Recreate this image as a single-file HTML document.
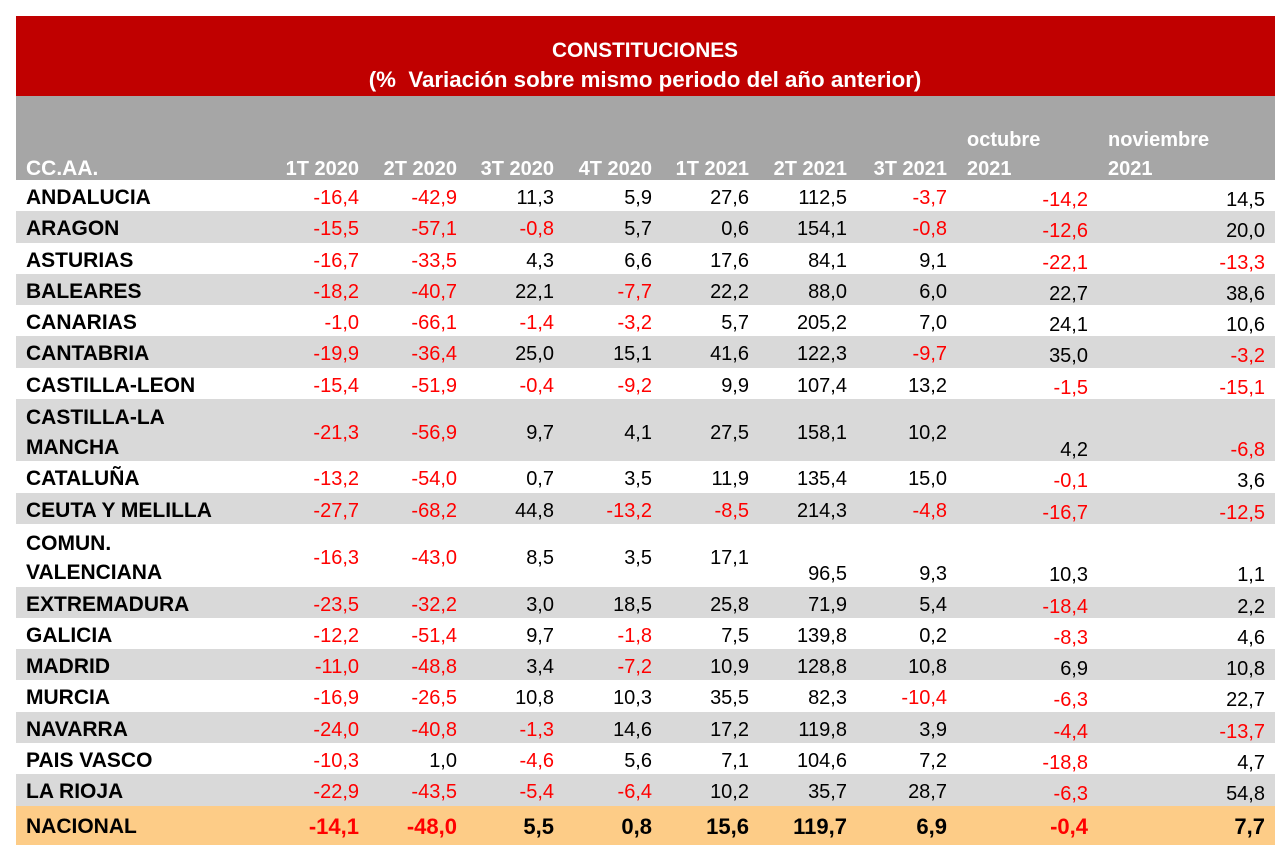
<!DOCTYPE html>
<html>
<head>
<meta charset="utf-8">
<style>
  html, body { margin: 0; padding: 0; background: #ffffff; }
  body { width: 1282px; height: 861px; overflow: hidden; }
  svg { display: block; }
  text { font-family: "Liberation Sans", Arial, sans-serif; }
  .t1 { font-weight: bold; font-size: 20.8px; fill: #ffffff; }
  .t2 { font-weight: bold; font-size: 22.3px; fill: #ffffff; white-space: pre; }
  .h { font-weight: bold; font-size: 20px; fill: #ffffff; }
  .hn { font-weight: bold; font-size: 21px; fill: #ffffff; }
  .nm { font-weight: bold; font-size: 21px; fill: #000000; }
  .v { font-size: 20px; fill: #000000; }
  .v .r, .r { fill: #ff0000; }
  .nb { font-weight: bold; font-size: 22px; fill: #000000; }
</style>
</head>
<body>
<svg width="1282" height="861" viewBox="0 0 1282 861" xmlns="http://www.w3.org/2000/svg">
  <rect x="0" y="0" width="1282" height="861" fill="#ffffff"/>
  <!-- title band -->
  <rect x="16" y="16" width="1259" height="80" fill="#c00000"/>
  <!-- header band -->
  <rect x="16" y="96" width="1259" height="84" fill="#a6a6a6"/>
  <!-- stripes -->
  <rect x="16" y="211" width="1259" height="32" fill="#d9d9d9"/>
  <rect x="16" y="274" width="1259" height="31" fill="#d9d9d9"/>
  <rect x="16" y="336" width="1259" height="32" fill="#d9d9d9"/>
  <rect x="16" y="399" width="1259" height="62" fill="#d9d9d9"/>
  <rect x="16" y="493" width="1259" height="31" fill="#d9d9d9"/>
  <rect x="16" y="587" width="1259" height="31" fill="#d9d9d9"/>
  <rect x="16" y="649" width="1259" height="31" fill="#d9d9d9"/>
  <rect x="16" y="712" width="1259" height="31" fill="#d9d9d9"/>
  <rect x="16" y="774" width="1259" height="32" fill="#d9d9d9"/>
  <rect x="16" y="806" width="1259" height="39" fill="#fdcc87"/>

  <!-- title -->
  <text class="t1" x="645" y="57" text-anchor="middle">CONSTITUCIONES</text>
  <text class="t2" x="645" y="87" text-anchor="middle" xml:space="preserve">(%  Variación sobre mismo periodo del año anterior)</text>

  <!-- header -->
  <text class="hn" x="26" y="175">CC.AA.</text>
  <g class="h" text-anchor="end">
    <text x="359" y="175">1T 2020</text>
    <text x="457" y="175">2T 2020</text>
    <text x="554" y="175">3T 2020</text>
    <text x="652" y="175">4T 2020</text>
    <text x="749" y="175">1T 2021</text>
    <text x="847" y="175">2T 2021</text>
    <text x="947" y="175">3T 2021</text>
  </g>
  <text class="h" x="967" y="146">octubre</text>
  <text class="h" x="967" y="175">2021</text>
  <text class="h" x="1108" y="146">noviembre</text>
  <text class="h" x="1108" y="175">2021</text>

  <!-- names -->
  <g class="nm">
    <text x="26" y="204">ANDALUCIA</text>
    <text x="26" y="235">ARAGON</text>
    <text x="26" y="267">ASTURIAS</text>
    <text x="26" y="298">BALEARES</text>
    <text x="26" y="329">CANARIAS</text>
    <text x="26" y="360">CANTABRIA</text>
    <text x="26" y="392">CASTILLA-LEON</text>
    <text x="26" y="424">CASTILLA-LA</text>
    <text x="26" y="454">MANCHA</text>
    <text x="26" y="485">CATALUÑA</text>
    <text x="26" y="517">CEUTA Y MELILLA</text>
    <text x="26" y="550">COMUN.</text>
    <text x="26" y="579">VALENCIANA</text>
    <text x="26" y="611">EXTREMADURA</text>
    <text x="26" y="642">GALICIA</text>
    <text x="26" y="673">MADRID</text>
    <text x="26" y="704">MURCIA</text>
    <text x="26" y="736">NAVARRA</text>
    <text x="26" y="767">PAIS VASCO</text>
    <text x="26" y="798">LA RIOJA</text>
    <text x="26" y="833">NACIONAL</text>
  </g>

  <g class="v" text-anchor="end">
    <!-- ANDALUCIA -->
    <text class="r" x="359" y="204">-16,4</text>
    <text class="r" x="457" y="204">-42,9</text>
    <text x="554" y="204">11,3</text>
    <text x="652" y="204">5,9</text>
    <text x="749" y="204">27,6</text>
    <text x="847" y="204">112,5</text>
    <text class="r" x="947" y="204">-3,7</text>
    <text class="r" x="1088" y="206">-14,2</text>
    <text x="1265" y="206">14,5</text>
    <!-- ARAGON -->
    <text class="r" x="359" y="235">-15,5</text>
    <text class="r" x="457" y="235">-57,1</text>
    <text class="r" x="554" y="235">-0,8</text>
    <text x="652" y="235">5,7</text>
    <text x="749" y="235">0,6</text>
    <text x="847" y="235">154,1</text>
    <text class="r" x="947" y="235">-0,8</text>
    <text class="r" x="1088" y="237">-12,6</text>
    <text x="1265" y="237">20,0</text>
    <!-- ASTURIAS -->
    <text class="r" x="359" y="267">-16,7</text>
    <text class="r" x="457" y="267">-33,5</text>
    <text x="554" y="267">4,3</text>
    <text x="652" y="267">6,6</text>
    <text x="749" y="267">17,6</text>
    <text x="847" y="267">84,1</text>
    <text x="947" y="267">9,1</text>
    <text class="r" x="1088" y="269">-22,1</text>
    <text class="r" x="1265" y="269">-13,3</text>
    <!-- BALEARES -->
    <text class="r" x="359" y="298">-18,2</text>
    <text class="r" x="457" y="298">-40,7</text>
    <text x="554" y="298">22,1</text>
    <text class="r" x="652" y="298">-7,7</text>
    <text x="749" y="298">22,2</text>
    <text x="847" y="298">88,0</text>
    <text x="947" y="298">6,0</text>
    <text x="1088" y="300">22,7</text>
    <text x="1265" y="300">38,6</text>
    <!-- CANARIAS -->
    <text class="r" x="359" y="329">-1,0</text>
    <text class="r" x="457" y="329">-66,1</text>
    <text class="r" x="554" y="329">-1,4</text>
    <text class="r" x="652" y="329">-3,2</text>
    <text x="749" y="329">5,7</text>
    <text x="847" y="329">205,2</text>
    <text x="947" y="329">7,0</text>
    <text x="1088" y="331">24,1</text>
    <text x="1265" y="331">10,6</text>
    <!-- CANTABRIA -->
    <text class="r" x="359" y="360">-19,9</text>
    <text class="r" x="457" y="360">-36,4</text>
    <text x="554" y="360">25,0</text>
    <text x="652" y="360">15,1</text>
    <text x="749" y="360">41,6</text>
    <text x="847" y="360">122,3</text>
    <text class="r" x="947" y="360">-9,7</text>
    <text x="1088" y="362">35,0</text>
    <text class="r" x="1265" y="362">-3,2</text>
    <!-- CASTILLA-LEON -->
    <text class="r" x="359" y="392">-15,4</text>
    <text class="r" x="457" y="392">-51,9</text>
    <text class="r" x="554" y="392">-0,4</text>
    <text class="r" x="652" y="392">-9,2</text>
    <text x="749" y="392">9,9</text>
    <text x="847" y="392">107,4</text>
    <text x="947" y="392">13,2</text>
    <text class="r" x="1088" y="394">-1,5</text>
    <text class="r" x="1265" y="394">-15,1</text>
    <!-- CASTILLA-LA MANCHA -->
    <text class="r" x="359" y="439">-21,3</text>
    <text class="r" x="457" y="439">-56,9</text>
    <text x="554" y="439">9,7</text>
    <text x="652" y="439">4,1</text>
    <text x="749" y="439">27,5</text>
    <text x="847" y="439">158,1</text>
    <text x="947" y="439">10,2</text>
    <text x="1088" y="456">4,2</text>
    <text class="r" x="1265" y="456">-6,8</text>
    <!-- CATALUÑA -->
    <text class="r" x="359" y="485">-13,2</text>
    <text class="r" x="457" y="485">-54,0</text>
    <text x="554" y="485">0,7</text>
    <text x="652" y="485">3,5</text>
    <text x="749" y="485">11,9</text>
    <text x="847" y="485">135,4</text>
    <text x="947" y="485">15,0</text>
    <text class="r" x="1088" y="487">-0,1</text>
    <text x="1265" y="487">3,6</text>
    <!-- CEUTA Y MELILLA -->
    <text class="r" x="359" y="517">-27,7</text>
    <text class="r" x="457" y="517">-68,2</text>
    <text x="554" y="517">44,8</text>
    <text class="r" x="652" y="517">-13,2</text>
    <text class="r" x="749" y="517">-8,5</text>
    <text x="847" y="517">214,3</text>
    <text class="r" x="947" y="517">-4,8</text>
    <text class="r" x="1088" y="519">-16,7</text>
    <text class="r" x="1265" y="519">-12,5</text>
    <!-- COMUN. VALENCIANA -->
    <text class="r" x="359" y="564">-16,3</text>
    <text class="r" x="457" y="564">-43,0</text>
    <text x="554" y="564">8,5</text>
    <text x="652" y="564">3,5</text>
    <text x="749" y="564">17,1</text>
    <text x="847" y="580">96,5</text>
    <text x="947" y="580">9,3</text>
    <text x="1088" y="581">10,3</text>
    <text x="1265" y="581">1,1</text>
    <!-- EXTREMADURA -->
    <text class="r" x="359" y="611">-23,5</text>
    <text class="r" x="457" y="611">-32,2</text>
    <text x="554" y="611">3,0</text>
    <text x="652" y="611">18,5</text>
    <text x="749" y="611">25,8</text>
    <text x="847" y="611">71,9</text>
    <text x="947" y="611">5,4</text>
    <text class="r" x="1088" y="613">-18,4</text>
    <text x="1265" y="613">2,2</text>
    <!-- GALICIA -->
    <text class="r" x="359" y="642">-12,2</text>
    <text class="r" x="457" y="642">-51,4</text>
    <text x="554" y="642">9,7</text>
    <text class="r" x="652" y="642">-1,8</text>
    <text x="749" y="642">7,5</text>
    <text x="847" y="642">139,8</text>
    <text x="947" y="642">0,2</text>
    <text class="r" x="1088" y="644">-8,3</text>
    <text x="1265" y="644">4,6</text>
    <!-- MADRID -->
    <text class="r" x="359" y="673">-11,0</text>
    <text class="r" x="457" y="673">-48,8</text>
    <text x="554" y="673">3,4</text>
    <text class="r" x="652" y="673">-7,2</text>
    <text x="749" y="673">10,9</text>
    <text x="847" y="673">128,8</text>
    <text x="947" y="673">10,8</text>
    <text x="1088" y="675">6,9</text>
    <text x="1265" y="675">10,8</text>
    <!-- MURCIA -->
    <text class="r" x="359" y="704">-16,9</text>
    <text class="r" x="457" y="704">-26,5</text>
    <text x="554" y="704">10,8</text>
    <text x="652" y="704">10,3</text>
    <text x="749" y="704">35,5</text>
    <text x="847" y="704">82,3</text>
    <text class="r" x="947" y="704">-10,4</text>
    <text class="r" x="1088" y="706">-6,3</text>
    <text x="1265" y="706">22,7</text>
    <!-- NAVARRA -->
    <text class="r" x="359" y="736">-24,0</text>
    <text class="r" x="457" y="736">-40,8</text>
    <text class="r" x="554" y="736">-1,3</text>
    <text x="652" y="736">14,6</text>
    <text x="749" y="736">17,2</text>
    <text x="847" y="736">119,8</text>
    <text x="947" y="736">3,9</text>
    <text class="r" x="1088" y="738">-4,4</text>
    <text class="r" x="1265" y="738">-13,7</text>
    <!-- PAIS VASCO -->
    <text class="r" x="359" y="767">-10,3</text>
    <text x="457" y="767">1,0</text>
    <text class="r" x="554" y="767">-4,6</text>
    <text x="652" y="767">5,6</text>
    <text x="749" y="767">7,1</text>
    <text x="847" y="767">104,6</text>
    <text x="947" y="767">7,2</text>
    <text class="r" x="1088" y="769">-18,8</text>
    <text x="1265" y="769">4,7</text>
    <!-- LA RIOJA -->
    <text class="r" x="359" y="798">-22,9</text>
    <text class="r" x="457" y="798">-43,5</text>
    <text class="r" x="554" y="798">-5,4</text>
    <text class="r" x="652" y="798">-6,4</text>
    <text x="749" y="798">10,2</text>
    <text x="847" y="798">35,7</text>
    <text x="947" y="798">28,7</text>
    <text class="r" x="1088" y="800">-6,3</text>
    <text x="1265" y="800">54,8</text>
  </g>

  <!-- NACIONAL -->
  <g class="nb" text-anchor="end">
    <text class="r" x="359" y="834">-14,1</text>
    <text class="r" x="457" y="834">-48,0</text>
    <text x="554" y="834">5,5</text>
    <text x="652" y="834">0,8</text>
    <text x="749" y="834">15,6</text>
    <text x="847" y="834">119,7</text>
    <text x="947" y="834">6,9</text>
    <text class="r" x="1088" y="834">-0,4</text>
    <text x="1265" y="834">7,7</text>
  </g>
</svg>
</body>
</html>
